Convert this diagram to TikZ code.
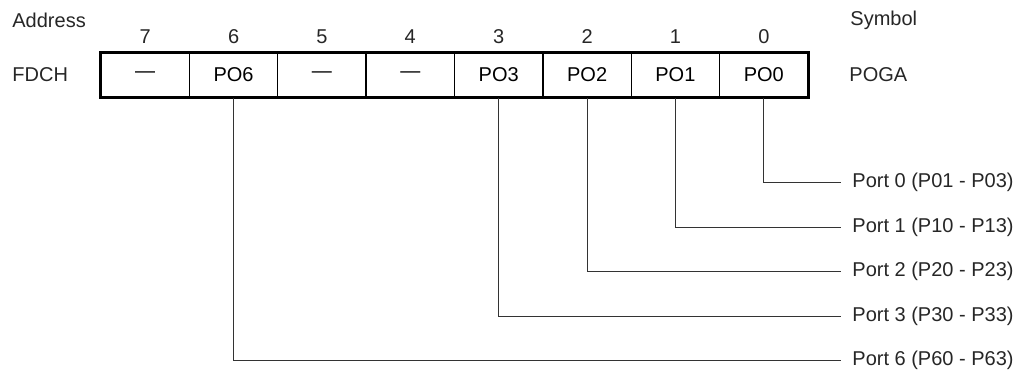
\documentclass[tikz,border=0pt]{standalone}
\usepackage{fontspec}
\setmainfont{Liberation Sans}
\usepackage{tikz}
\usetikzlibrary{calc}
\tikzset{
  cell/.style={draw, line width=0.7pt, inner sep=0pt, minimum width=44.19pt, minimum height=22pt},
  lbl/.style={inner sep=0pt, text=black!85},
  portlbl/.style={anchor=west, inner xsep=5.5pt, inner ysep=0pt, text=black!85},
  wire/.style={line width=0.5pt, black!80}
}
\newcommand{\bitcell}[3]{\node[cell] (#1) at (#2,75) {#3};}
\newcommand{\bitnum}[3]{\node[lbl] (#1) at (#2,37) {#3};}

\begin{document}
\begin{tikzpicture}[x=0.5pt, y=-0.5pt, font=\fontsize{10}{12}\selectfont]
        \useasboundingbox (0,0) rectangle (1015,371);
        % headings
        \node[lbl, anchor=west] (addr) at (12,20) {Address};
        \node[lbl, anchor=west] (sym) at (850,20) {Symbol};
        \node[lbl, anchor=west] (fdch) at (12,75) {FDCH};
        \node[lbl, anchor=west] (poga) at (849,75) {POGA};
        % bit numbers
        \bitnum{n7}{145.2}{7}
        \bitnum{n6}{233.6}{6}
        \bitnum{n5}{321.9}{5}
        \bitnum{n4}{410.3}{4}
        \bitnum{n3}{498.7}{3}
        \bitnum{n2}{587.1}{2}
        \bitnum{n1}{675.4}{1}
        \bitnum{n0}{763.8}{0}
        % register cells
        \bitcell{b7}{145.2}{---}
        \bitcell{b6}{233.6}{PO6}
        \bitcell{b5}{321.9}{---}
        \bitcell{b4}{410.3}{---}
        \bitcell{b3}{498.7}{PO3}
        \bitcell{b2}{587.1}{PO2}
        \bitcell{b1}{675.4}{PO1}
        \bitcell{b0}{763.8}{PO0}
        \draw[line width=1.5pt] (b7.north west) rectangle (b0.south east);
        % port labels
        \node[portlbl] (p0) at (841,182) {Port 0 (P01 - P03)};
        \node[portlbl] (p1) at (841,227) {Port 1 (P10 - P13)};
        \node[portlbl] (p2) at (841,271) {Port 2 (P20 - P23)};
        \node[portlbl] (p3) at (841,316) {Port 3 (P30 - P33)};
        \node[portlbl] (p6) at (841,360) {Port 6 (P60 - P63)};
        % wires
        \draw[wire] (b0.south) |- (p0.west);
        \draw[wire] (b1.south) |- (p1.west);
        \draw[wire] (b2.south) |- (p2.west);
        \draw[wire] (b3.south) |- (p3.west);
        \draw[wire] (b6.south) |- (p6.west);
\end{tikzpicture}
\end{document}
